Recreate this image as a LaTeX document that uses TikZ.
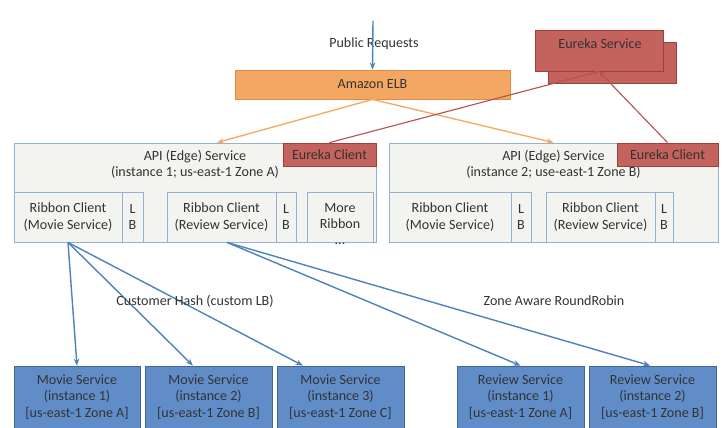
\documentclass[tikz,border=0pt]{standalone}
\usepackage{fontspec}
\setmainfont{Carlito}
\usetikzlibrary{arrows.meta}

\definecolor{elbfill}{RGB}{242,168,98}
\definecolor{elbdraw}{RGB}{226,138,66}
\definecolor{eurekafill}{RGB}{196,98,94}
\definecolor{eurekadraw}{RGB}{160,62,60}
\definecolor{apifill}{RGB}{243,243,240}
\definecolor{apidraw}{RGB}{150,176,212}
\definecolor{svcfill}{RGB}{96,141,200}
\definecolor{svcdraw}{RGB}{66,102,152}
\definecolor{arrowblue}{RGB}{79,129,189}
\definecolor{arroworange}{RGB}{245,172,102}
\definecolor{arrowred}{RGB}{184,82,80}

\begin{document}
\begin{tikzpicture}[x=0.025cm, y=-0.025cm,
    font=\fontsize{10}{12}\selectfont, text=black!80,
    box/.style={draw, rectangle, inner sep=0pt, align=center, line width=0.6pt},
    elbbox/.style={box, draw=elbdraw, fill=elbfill},
    eurekabox/.style={box, draw=eurekadraw, fill=eurekafill},
    apibox/.style={box, draw=apidraw, fill=apifill},
    svcbox/.style={box, draw=svcdraw, fill=svcfill, minimum width=3.175cm, minimum height=1.55cm},
    ribbon/.style={apibox, minimum height=1.25cm},
    bluearrow/.style={draw=arrowblue, line width=1pt, -{Stealth[length=5pt,width=4pt]}},
    orangearrow/.style={draw=arroworange, line width=1pt, -{Stealth[length=5pt,width=4pt]}},
    redarrow/.style={draw=arrowred, line width=0.8pt, -{Stealth[length=4pt,width=3.5pt,open]}}]
    \useasboundingbox (0,0) rectangle (725,428);

    \node[elbbox, minimum width=6.875cm, minimum height=0.725cm] (elb) at (372.5,84.5) {Amazon ELB};
    \node (public) at (374,44) {Public Requests};
    \coordinate (request) at (373,21);
    \draw[bluearrow] (request) -- (elb.north);

    \node[eurekabox, minimum width=3.2cm, minimum height=1.025cm] (eurekaback) at (612,62.5) {};
    \node[eurekabox, minimum width=3.2cm, minimum height=1.025cm] (eureka) at (599,50.5) {};
    \node (eurekatext) at (600,44) {Eureka Service};

    \node[apibox, minimum width=9.05cm, minimum height=2.475cm] (api1) at (195,192.5) {};
    \node[align=center, font=\fontsize{10}{11}\selectfont] (api1text) at (195,164.5) {API (Edge) Service\\(instance 1; us-east-1 Zone A)};
    \node[eurekabox, minimum width=2.325cm, minimum height=0.575cm] (ec1) at (329.5,154.5) {Eureka Client};
    \node[ribbon, minimum width=2.7cm] (rm1) at (68,217) {Ribbon Client\\(Movie Service)};
    \node[ribbon, minimum width=0.525cm] (lb1) at (132.5,217) {L\\B};
    \node[ribbon, minimum width=2.725cm] (rr1) at (221.5,217) {Ribbon Client\\(Review Service)};
    \node[ribbon, minimum width=0.5cm] (lb2) at (286,217) {L\\B};
    \node[ribbon, minimum width=1.65cm] (more) at (340,217) {};
    \node[align=center, font=\fontsize{10}{11.4}\selectfont] (moretext) at (340,224) {More\\Ribbon\\...};

    \node[apibox, minimum width=8.225cm, minimum height=2.475cm] (api2) at (553.5,192.5) {};
    \node[align=center, font=\fontsize{10}{11}\selectfont] (api2text) at (553.5,164.5) {API (Edge) Service\\(instance 2; use-east-1 Zone B)};
    \node[eurekabox, minimum width=2.525cm, minimum height=0.575cm] (ec2) at (667.5,154.5) {Eureka Client};
    \node[ribbon, minimum width=3.05cm] (rm2) at (450,217) {Ribbon Client\\(Movie Service)};
    \node[ribbon, minimum width=0.5cm] (lb3) at (521,217) {L\\B};
    \node[ribbon, minimum width=2.725cm] (rr2) at (600.5,217) {Ribbon Client\\(Review Service)};
    \node[ribbon, minimum width=0.45cm] (lb4) at (664,217) {L\\B};

    \draw[orangearrow] (elb.south) -- ([xshift=0.55cm]api1.north);
    \draw[orangearrow] (elb.south) -- (api2.north);
    \draw[redarrow] (ec1.north) -- (eureka.south);
    \draw[redarrow] (ec2.north) -- (eureka.south);

    \node[svcbox, minimum width=3.15cm] (ms1) at (77,397) {Movie Service\\(instance 1)\\{[us-east-1 Zone A]}};
    \node[svcbox] (ms2) at (208.5,397) {Movie Service\\(instance 2)\\{[us-east-1 Zone B]}};
    \node[svcbox] (ms3) at (340.5,397) {Movie Service\\(instance 3)\\{[us-east-1 Zone C]}};
    \node[svcbox] (rs1) at (520.5,397) {Review Service\\(instance 1)\\{[us-east-1 Zone A]}};
    \node[svcbox] (rs2) at (652.5,397) {Review Service\\(instance 2)\\{[us-east-1 Zone B]}};

    \draw[bluearrow] (rm1.south) -- (ms1.north);
    \draw[bluearrow] (rm1.south) -- ([xshift=-0.39cm]ms2.north);
    \draw[bluearrow] (rm1.south) -- ([xshift=-0.94cm]ms3.north);
    \draw[bluearrow] ([xshift=0.14cm]rr1.south) -- (rs1.north);
    \draw[bluearrow] ([xshift=0.14cm]rr1.south) -- ([xshift=-0.06cm]rs2.north);

    \node (hash) at (195,301) {Customer Hash (custom LB)};
    \node (zone) at (554,301) {Zone Aware RoundRobin};
\end{tikzpicture}
\end{document}
